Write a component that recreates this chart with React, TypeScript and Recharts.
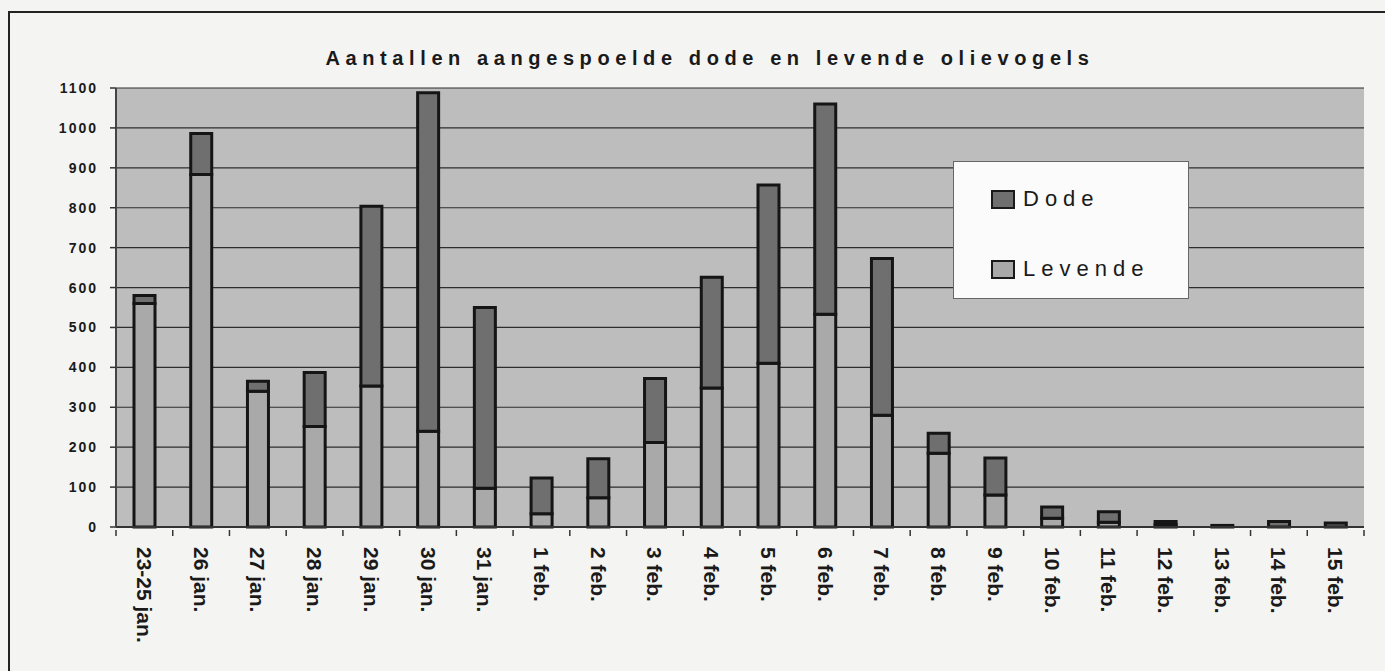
import React from 'react';
import {
  BarChart,
  Bar,
  XAxis,
  YAxis,
  CartesianGrid,
  Legend,
} from 'recharts';

const dagen = [
  '23-25 jan.', '26 jan.', '27 jan.', '28 jan.', '29 jan.', '30 jan.', '31 jan.',
  '1 feb.', '2 feb.', '3 feb.', '4 feb.', '5 feb.', '6 feb.', '7 feb.', '8 feb.',
  '9 feb.', '10 feb.', '11 feb.', '12 feb.', '13 feb.', '14 feb.', '15 feb.',
];
const levende = [560, 883, 340, 252, 353, 240, 97, 33, 73, 212, 348, 410, 533, 280, 185, 80, 22, 12, 6, 0, 0, 0];
const dode = [20, 103, 25, 135, 451, 848, 453, 90, 98, 160, 278, 447, 527, 393, 50, 93, 28, 26, 8, 4, 14, 10];
const yTicks = [0, 100, 200, 300, 400, 500, 600, 700, 800, 900, 1000, 1100];

const data = dagen.map((d, i) => ({ dag: d, Levende: levende[i], Dode: dode[i] }));

const W = 1385;
const H = 671;
const PLOT_LEFT = 116;
const PLOT_RIGHT = 1364;
const PLOT_TOP = 88;
const PLOT_BOTTOM = 527;
const Y_AXIS_W = 60;
const X_AXIS_H = H - PLOT_BOTTOM;
const halfBand = (PLOT_RIGHT - PLOT_LEFT) / dagen.length / 2;

const DODE_KLEUR = '#6f6f6f';
const LEVENDE_KLEUR = '#a9a9a9';

function DagTick(props: any) {
  const { x, y, payload, index } = props;
  return (
    <g>
      <line x1={x + halfBand} x2={x + halfBand} y1={y - 5} y2={y + 1} stroke="#333" strokeWidth={1.5} />
      {index === 0 && (
        <line x1={x - halfBand} x2={x - halfBand} y1={y - 5} y2={y + 1} stroke="#333" strokeWidth={1.5} />
      )}
      <text
        x={x}
        y={y + 12}
        transform={`rotate(90, ${x}, ${y + 12})`}
        textAnchor="start"
        dominantBaseline="central"
        fill="#1a1a1a"
        fontSize={21}
        fontWeight="bold"
        fontFamily="'Liberation Sans', Arial, sans-serif"
      >
        {payload.value}
      </text>
    </g>
  );
}

function LegendaBox() {
  const items = [
    { naam: 'Dode', kleur: DODE_KLEUR },
    { naam: 'Levende', kleur: LEVENDE_KLEUR },
  ];
  return (
    <div
      style={{
        width: 236,
        height: 138,
        background: '#fbfbfb',
        border: '1px solid #666',
        boxSizing: 'border-box',
        position: 'relative',
      }}
    >
      {items.map((it, i) => (
        <div
          key={it.naam}
          style={{
            position: 'absolute',
            left: 37,
            top: 24 + i * 70,
            display: 'flex',
            alignItems: 'center',
            height: 26,
          }}
        >
          <div
            style={{
              width: 24,
              height: 19,
              background: it.kleur,
              border: '2.5px solid #1a1a1a',
              boxSizing: 'border-box',
              marginRight: 8,
            }}
          />
          <span
            style={{
              fontSize: 22,
              letterSpacing: 6,
              color: '#1a1a1a',
              fontFamily: "'Liberation Sans', Arial, sans-serif",
            }}
          >
            {it.naam}
          </span>
        </div>
      ))}
    </div>
  );
}

export default function App() {
  return (
    <div
      style={{
        position: 'fixed',
        left: 0,
        top: 0,
        width: W,
        height: H,
        background: '#f4f4f2',
        overflow: 'hidden',
      }}
    >
      <div
        style={{
          position: 'absolute',
          left: 8,
          top: 11,
          width: W,
          height: H,
          borderLeft: '2.5px solid #222',
          borderTop: '2.5px solid #222',
        }}
      />
      <div
        style={{
          position: 'absolute',
          left: 0,
          width: 1420,
          top: 47,
          textAlign: 'center',
          fontSize: 20,
          fontWeight: 'bold',
          letterSpacing: 5.6,
          color: '#1a1a1a',
          fontFamily: "'Liberation Sans', Arial, sans-serif",
        }}
      >
        Aantallen aangespoelde dode en levende olievogels
      </div>
      <div style={{ position: 'absolute', left: 0, top: 0 }}>
        <BarChart
          width={W}
          height={H}
          data={data}
          margin={{ top: PLOT_TOP, right: W - PLOT_RIGHT, bottom: 0, left: PLOT_LEFT - Y_AXIS_W }}
        >
          <CartesianGrid
            vertical={false}
            stroke="#2e2e2e"
            strokeWidth={1.2}
            fill="#bdbdbd"
            fillOpacity={1}
          />
          <XAxis
            dataKey="dag"
            interval={0}
            height={X_AXIS_H}
            tickLine={false}
            axisLine={{ stroke: '#333', strokeWidth: 2 }}
            tick={<DagTick />}
          />
          <YAxis
            domain={[0, 1100]}
            ticks={yTicks}
            interval={0}
            width={Y_AXIS_W}
            tickSize={6}
            tickMargin={12}
            tickLine={{ stroke: '#333', strokeWidth: 1.5 }}
            axisLine={{ stroke: '#444', strokeWidth: 2 }}
            tick={{
              fill: '#1a1a1a',
              fontSize: 14,
              fontWeight: 'bold',
              letterSpacing: 2,
              fontFamily: "'Liberation Sans', Arial, sans-serif",
            }}
          />
          <YAxis
            yAxisId="rand"
            orientation="right"
            width={0}
            domain={[0, 1100]}
            tick={false}
            tickLine={false}
            axisLine={{ stroke: '#888', strokeWidth: 2 }}
          />
          <Legend
            layout="horizontal"
            verticalAlign="middle"
            align="center"
            content={() => <LegendaBox />}
            wrapperStyle={{ position: 'absolute', left: 953, top: 161, width: 236, height: 138 }}
          />
          <Bar
            dataKey="Levende"
            stackId="a"
            fill={LEVENDE_KLEUR}
            stroke="#151515"
            strokeWidth={3}
            barSize={21}
            isAnimationActive={false}
          />
          <Bar
            dataKey="Dode"
            stackId="a"
            fill={DODE_KLEUR}
            stroke="#151515"
            strokeWidth={3}
            barSize={21}
            isAnimationActive={false}
          />
        </BarChart>
      </div>
    </div>
  );
}
